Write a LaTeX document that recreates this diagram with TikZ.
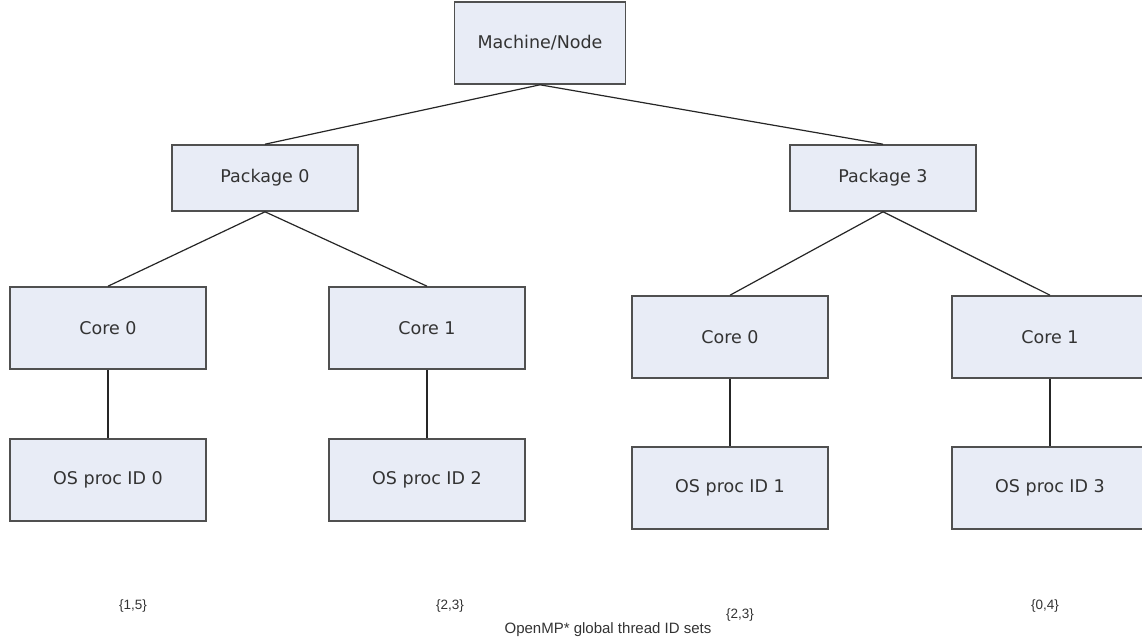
\documentclass[tikz,border=0pt]{standalone}
\usepackage{fontspec}
\setmainfont{DejaVu Sans}
\newfontfamily\arialfont{Liberation Sans}
\definecolor{boxfill}{HTML}{E8ECF6}
\definecolor{boxline}{HTML}{505050}
\definecolor{txt}{HTML}{333333}
\begin{document}
\begin{tikzpicture}[x=1pt,y=-1pt,
  box/.style={draw=boxline,line width=1.6pt,fill=boxfill,minimum width=196pt,minimum height=82pt,inner sep=0pt,text=txt,font=\fontsize{17.5}{20}\selectfont},
  wide/.style={minimum width=186pt,minimum height=66pt},
  conn/.style={draw=black!85,line width=1.2pt},
  lab/.style={text=txt,font=\arialfont\fontsize{13.5}{15}\selectfont,inner sep=0pt}]
\fill[white] (0,0) rectangle (1142,642);
\useasboundingbox (0,0) rectangle (1142,642);
\node[box,minimum width=171pt] (m) at (540,43) {Machine/Node};
\node[box,wide] (p0) at (265,178) {Package 0};
\node[box,wide] (p3) at (883,178) {Package 3};
\node[box] (c00) at (108,328) {Core 0};
\node[box] (c01) at (427,328) {Core 1};
\node[box] (c30) at (730,337) {Core 0};
\node[box] (c31) at (1050,337) {Core 1};
\node[box] (o0) at (108,480) {OS proc ID 0};
\node[box] (o2) at (427,480) {OS proc ID 2};
\node[box] (o1) at (730,488) {OS proc ID 1};
\node[box] (o3) at (1050,488) {OS proc ID 3};
\draw[conn] (m.south) -- (p0.north);
\draw[conn] (m.south) -- (p3.north);
\draw[conn] (p0.south) -- (c00.north);
\draw[conn] (p0.south) -- (c01.north);
\draw[conn] (p3.south) -- (c30.north);
\draw[conn] (p3.south) -- (c31.north);
\draw[conn] (c00) -- (o0);
\draw[conn] (c01) -- (o2);
\draw[conn] (c30) -- (o1);
\draw[conn] (c31) -- (o3);
\node[lab] (l0) at (133,606) {\{1,5\}};
\node[lab] (l1) at (450,606) {\{2,3\}};
\node[lab] (l2) at (740,615) {\{2,3\}};
\node[lab] (l3) at (1045,606) {\{0,4\}};
\node[lab,font=\arialfont\fontsize{15}{17}\selectfont] (t) at (608,630) {OpenMP* global thread ID sets};
\end{tikzpicture}
\end{document}
